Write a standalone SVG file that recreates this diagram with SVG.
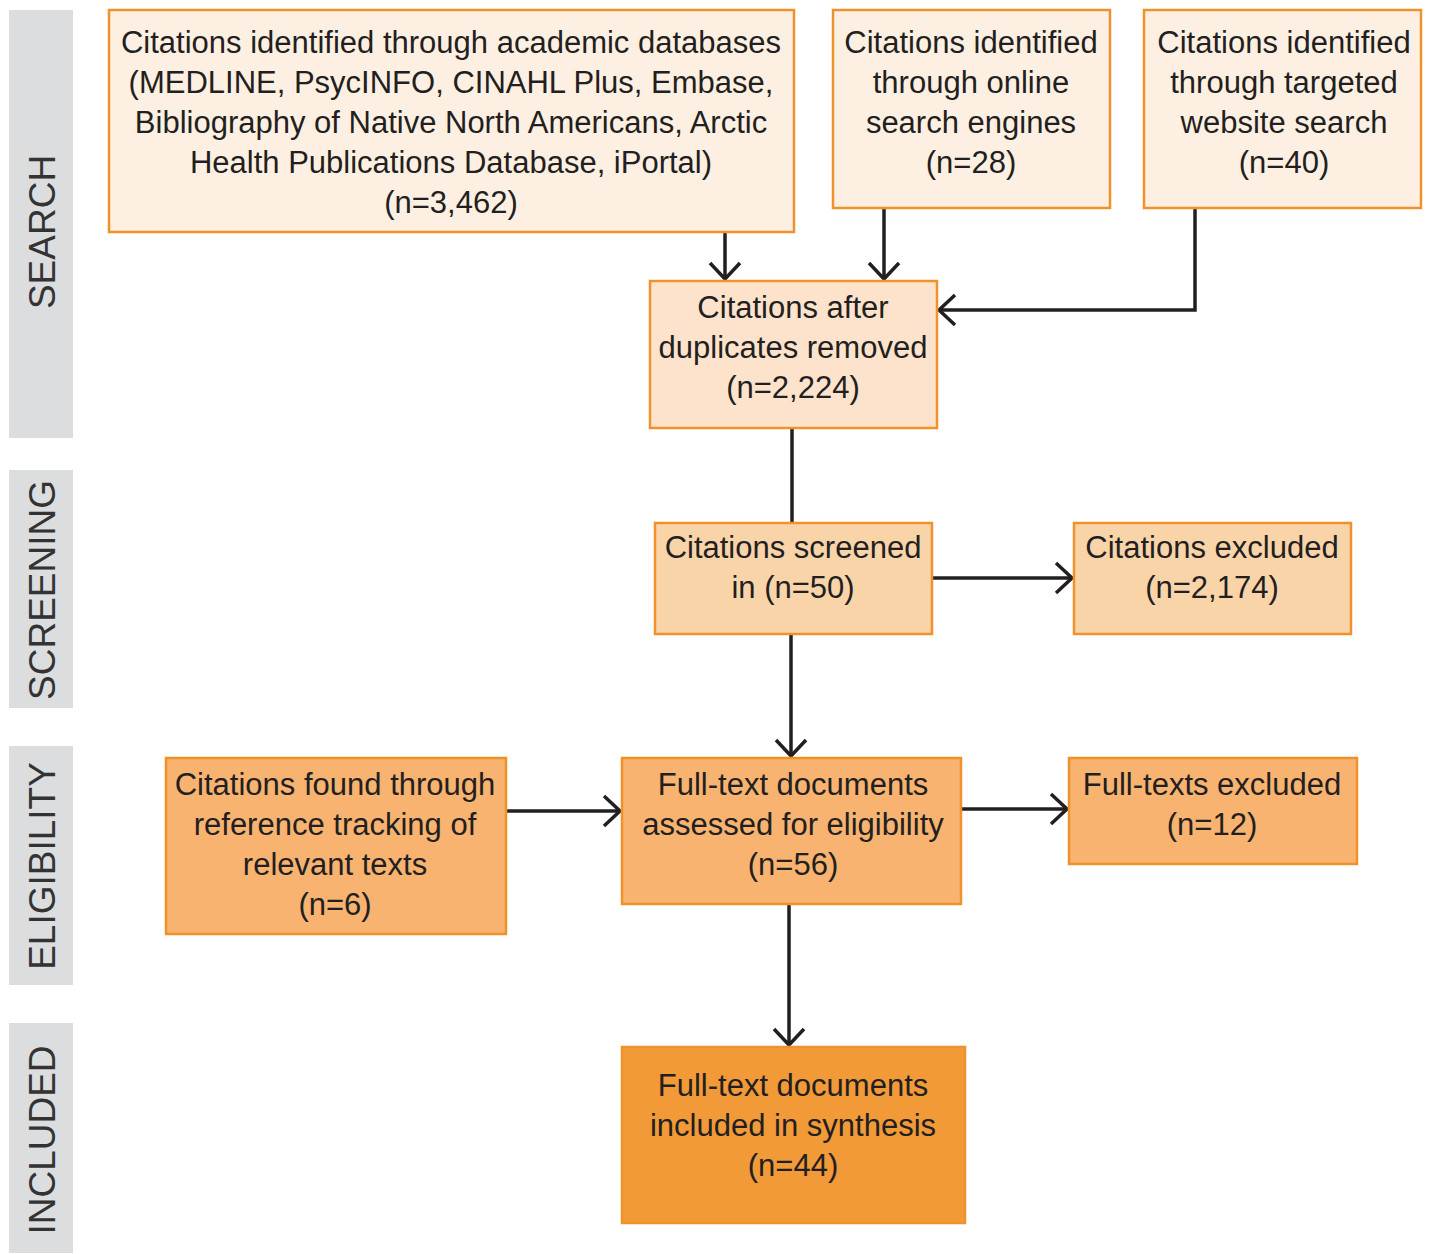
<svg xmlns="http://www.w3.org/2000/svg" width="1433" height="1254" viewBox="0 0 1433 1254">
<defs>
<style>
.t{font-family:"Liberation Sans",Arial,sans-serif;font-size:31px;fill:#231f20;text-anchor:middle}
.side{font-family:"Liberation Sans",Arial,sans-serif;font-size:37px;fill:#333;text-anchor:middle}
.bar{fill:#dcdddf}
.b{stroke:#f0922b;stroke-width:2.5}
.c1{fill:#fdf0e2}.c2{fill:#fde3cc}.c3{fill:#fad4a9}.c4{fill:#f7b36f}.c5{fill:#f29a38}
.ln{fill:none;stroke:#231f20;stroke-width:3.5}
</style>
<marker id="ah" markerUnits="userSpaceOnUse" markerWidth="40" markerHeight="40" viewBox="-20 -20 40 40" refX="0" refY="0" orient="auto">
<path d="M-16,-15 L0,0 L-16,15" fill="none" stroke="#231f20" stroke-width="3.5"/>
</marker>
</defs>
<rect width="1433" height="1254" fill="#fff"/>
<g id="lanes">
<rect class="bar" x="9" y="10" width="64" height="428"/>
<rect class="bar" x="9" y="470" width="64" height="238"/>
<rect class="bar" x="9" y="746" width="64" height="239"/>
<rect class="bar" x="9" y="1023" width="64" height="230"/>
<text class="side" transform="translate(55,232) rotate(-90)">SEARCH</text>
<text class="side" transform="translate(55,590) rotate(-90)">SCREENING</text>
<text class="side" transform="translate(55,866) rotate(-90)">ELIGIBILITY</text>
<text class="side" transform="translate(55,1140) rotate(-90)">INCLUDED</text>
</g>
<g id="connectors">
<line class="ln" x1="725" y1="232" x2="725" y2="279" marker-end="url(#ah)"/>
<line class="ln" x1="884" y1="208" x2="884" y2="279" marker-end="url(#ah)"/>
<polyline class="ln" points="1195,208 1195,310 939,310" marker-end="url(#ah)"/>
<line class="ln" x1="792" y1="428" x2="792" y2="523"/>
<line class="ln" x1="932" y1="578" x2="1072" y2="578" marker-end="url(#ah)"/>
<line class="ln" x1="791" y1="634" x2="791" y2="756" marker-end="url(#ah)"/>
<line class="ln" x1="506" y1="811" x2="620" y2="811" marker-end="url(#ah)"/>
<line class="ln" x1="961" y1="809" x2="1067" y2="809" marker-end="url(#ah)"/>
<line class="ln" x1="789" y1="904" x2="789" y2="1045" marker-end="url(#ah)"/>
</g>
<g id="n-academic">
<rect class="b c1" x="109" y="10" width="685" height="222"/>
<text class="t" x="451" y="53">Citations identified through academic databases</text>
<text class="t" x="451" y="93">(MEDLINE, PsycINFO, CINAHL Plus, Embase,</text>
<text class="t" x="451" y="133">Bibliography of Native North Americans, Arctic</text>
<text class="t" x="451" y="173">Health Publications Database, iPortal)</text>
<text class="t" x="451" y="213">(n=3,462)</text>
</g>
<g id="n-online">
<rect class="b c1" x="833" y="10" width="277" height="198"/>
<text class="t" x="971" y="53">Citations identified</text>
<text class="t" x="971" y="93">through online</text>
<text class="t" x="971" y="133">search engines</text>
<text class="t" x="971" y="173">(n=28)</text>
</g>
<g id="n-targeted">
<rect class="b c1" x="1144" y="10" width="277" height="198"/>
<text class="t" x="1284" y="53">Citations identified</text>
<text class="t" x="1284" y="93">through targeted</text>
<text class="t" x="1284" y="133">website search</text>
<text class="t" x="1284" y="173">(n=40)</text>
</g>
<g id="n-duplicates">
<rect class="b c2" x="650" y="281" width="287" height="147"/>
<text class="t" x="793" y="318">Citations after</text>
<text class="t" x="793" y="358">duplicates removed</text>
<text class="t" x="793" y="398">(n=2,224)</text>
</g>
<g id="n-screened">
<rect class="b c3" x="655" y="523" width="277" height="111"/>
<text class="t" x="793" y="558">Citations screened</text>
<text class="t" x="793" y="598">in (n=50)</text>
</g>
<g id="n-excluded">
<rect class="b c3" x="1074" y="523" width="277" height="111"/>
<text class="t" x="1212" y="558">Citations excluded</text>
<text class="t" x="1212" y="598">(n=2,174)</text>
</g>
<g id="n-found">
<rect class="b c4" x="166" y="758" width="340" height="176"/>
<text class="t" x="335" y="795">Citations found through</text>
<text class="t" x="335" y="835">reference tracking of</text>
<text class="t" x="335" y="875">relevant texts</text>
<text class="t" x="335" y="915">(n=6)</text>
</g>
<g id="n-assessed">
<rect class="b c4" x="622" y="758" width="339" height="146"/>
<text class="t" x="793" y="795">Full-text documents</text>
<text class="t" x="793" y="835">assessed for eligibility</text>
<text class="t" x="793" y="875">(n=56)</text>
</g>
<g id="n-ftexcluded">
<rect class="b c4" x="1069" y="758" width="288" height="106"/>
<text class="t" x="1212" y="795">Full-texts excluded</text>
<text class="t" x="1212" y="835">(n=12)</text>
</g>
<g id="n-included">
<rect class="b c5" x="622" y="1047" width="343" height="176"/>
<text class="t" x="793" y="1096">Full-text documents</text>
<text class="t" x="793" y="1136">included in synthesis</text>
<text class="t" x="793" y="1176">(n=44)</text>
</g>
</svg>
